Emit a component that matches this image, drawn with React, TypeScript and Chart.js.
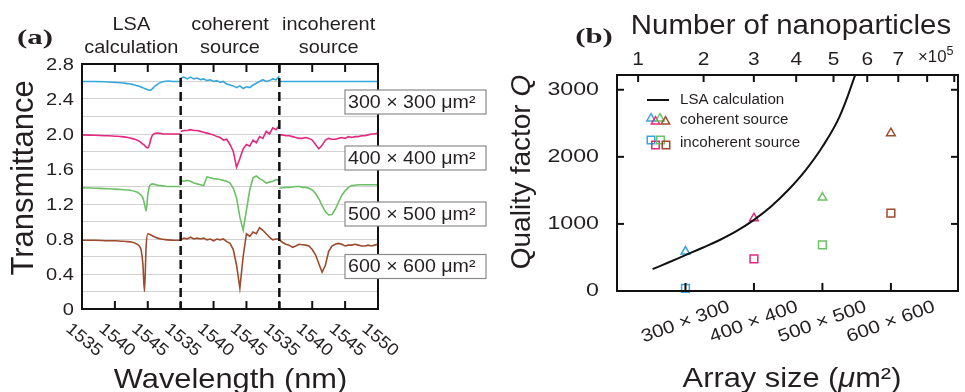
import React, { useEffect, useRef } from 'react';
import { Chart, registerables } from 'chart.js';

Chart.register(...registerables);

// ---------- shared styling ----------
const SIZE_COLORS = ['#35a7dc', '#e2297f', '#6dc066', '#9d4b2c'];
const INK = '#231f20';
const SANS = 'Liberation Sans';

// ---------- panel (a): transmittance spectra ----------
const segmentTitles = [
  ['LSA', 'calculation'],
  ['coherent', 'source'],
  ['incoherent', 'source'],
];
const sizeBoxLabels = ['300 × 300 μm²', '400 × 400 μm²', '500 × 500 μm²', '600 × 600 μm²'];
const wavelengthTickLabels = ['1535', '1540', '1545', '1535', '1540', '1545', '1535', '1540', '1545', '1550'];
const transmittanceTicks = [0, 0.4, 0.8, 1.2, 1.6, 2.0, 2.4, 2.8];

// LSA calculation (nm / offset transmittance)
const lsaWavelength = [1535, 1537, 1539, 1540, 1541, 1542, 1542.5, 1543, 1543.5, 1543.75, 1544, 1544.25, 1544.5, 1544.75, 1545, 1545.25, 1545.5, 1545.75, 1546, 1546.5, 1547, 1547.5, 1548, 1549, 1550];
const lsa300 = [2.6, 2.6, 2.595, 2.59, 2.585, 2.575, 2.57, 2.56, 2.55, 2.545, 2.535, 2.53, 2.52, 2.515, 2.505, 2.5, 2.505, 2.52, 2.54, 2.57, 2.59, 2.6, 2.605, 2.6, 2.6];
const lsa400 = [1.99, 1.985, 1.98, 1.975, 1.97, 1.96, 1.95, 1.94, 1.925, 1.915, 1.9, 1.885, 1.87, 1.85, 1.84, 1.88, 1.95, 1.99, 2.005, 2.01, 2.005, 2.0, 2.0, 2.0, 2.0];
const lsa500 = [1.385, 1.38, 1.375, 1.37, 1.365, 1.36, 1.355, 1.345, 1.33, 1.315, 1.3, 1.27, 1.2, 1.12, 1.3, 1.4, 1.425, 1.43, 1.425, 1.415, 1.41, 1.405, 1.4, 1.4, 1.4];
const lsa600 = [0.785, 0.785, 0.78, 0.78, 0.775, 0.77, 0.765, 0.755, 0.735, 0.715, 0.67, 0.52, 0.2, 0.72, 0.86, 0.855, 0.845, 0.835, 0.825, 0.81, 0.8, 0.795, 0.79, 0.785, 0.785];

// measured spectra, 0.5 nm steps
const measWavelength = [1535, 1535.5, 1536, 1536.5, 1537, 1537.5, 1538, 1538.5, 1539, 1539.5, 1540, 1540.5, 1541, 1541.5, 1542, 1542.5, 1543, 1543.5, 1544, 1544.5, 1545, 1545.5, 1546, 1546.5, 1547, 1547.5, 1548, 1548.5, 1549, 1549.5, 1550];
const coherent300 = [2.64, 2.65, 2.63, 2.65, 2.63, 2.64, 2.62, 2.63, 2.61, 2.62, 2.6, 2.61, 2.59, 2.6, 2.57, 2.56, 2.55, 2.53, 2.55, 2.52, 2.54, 2.53, 2.56, 2.58, 2.6, 2.62, 2.6, 2.61, 2.63, 2.62, 2.66];
const coherent400 = [2.03, 2.04, 2.04, 2.05, 2.04, 2.04, 2.03, 2.02, 2.01, 2.0, 1.99, 1.97, 1.96, 1.93, 1.94, 1.88, 1.8, 1.62, 1.72, 1.83, 1.88, 1.86, 1.93, 1.9, 1.97, 1.95, 2.03, 2.0, 2.07, 2.05, 2.1];
const coherent500 = [1.47, 1.46, 1.47, 1.46, 1.44, 1.43, 1.42, 1.41, 1.51, 1.5, 1.49, 1.485, 1.48, 1.47, 1.46, 1.44, 1.38, 1.27, 1.05, 0.9, 1.13, 1.36, 1.5, 1.52, 1.49, 1.47, 1.44, 1.45, 1.46, 1.48, 1.47];
const coherent600 = [0.79, 0.81, 0.8, 0.82, 0.8, 0.81, 0.8, 0.81, 0.79, 0.8, 0.78, 0.8, 0.79, 0.8, 0.77, 0.75, 0.68, 0.5, 0.24, 0.6, 0.86, 0.83, 0.88, 0.86, 0.93, 0.9, 0.86, 0.82, 0.79, 0.8, 0.8];
const incoherent300 = [2.6, 2.6, 2.6, 2.6, 2.6, 2.6, 2.6, 2.6, 2.6, 2.6, 2.6, 2.6, 2.6, 2.6, 2.6, 2.6, 2.6, 2.6, 2.6, 2.6, 2.6, 2.6, 2.6, 2.6, 2.6, 2.6, 2.6, 2.6, 2.6, 2.6, 2.6];
const incoherent400 = [1.99, 1.99, 1.98, 1.98, 1.97, 1.96, 1.95, 1.95, 1.96, 1.95, 1.93, 1.88, 1.83, 1.87, 1.93, 1.95, 1.94, 1.94, 1.95, 1.96, 1.95, 1.97, 1.96, 1.97, 1.97, 1.98, 1.98, 1.99, 2.0, 2.0, 2.01];
const incoherent500 = [1.38, 1.385, 1.39, 1.39, 1.395, 1.4, 1.4, 1.39, 1.39, 1.38, 1.36, 1.32, 1.26, 1.18, 1.11, 1.075, 1.08, 1.14, 1.22, 1.3, 1.35, 1.39, 1.41, 1.415, 1.42, 1.42, 1.42, 1.42, 1.42, 1.42, 1.42];
const incoherent600 = [0.79, 0.76, 0.74, 0.73, 0.705, 0.72, 0.74, 0.735, 0.73, 0.72, 0.68, 0.62, 0.52, 0.42, 0.5, 0.66, 0.72, 0.74, 0.75, 0.74, 0.72, 0.73, 0.73, 0.74, 0.73, 0.72, 0.72, 0.73, 0.72, 0.73, 0.74];

// ---------- panel (b): quality factor ----------
const arraySides = [300, 400, 500, 600]; // µm
const arraySizeLabels = ['300 × 300', '400 × 400', '500 × 500', '600 × 600'];
const coherentQ = [587, 1085, 1393, 2353];
const incoherentQ = [40, 478, 687, 1160];
const lsaSide = [252, 275, 300, 325, 350, 375, 400, 425, 450, 475, 500, 525, 550];
const lsaQ = [325, 425, 535, 645, 760, 895, 1060, 1260, 1505, 1795, 2150, 2600, 3280];
const qTicks = [0, 1000, 2000, 3000];
const particleTicks = [1, 2, 3, 4, 5, 6, 7, 8, 9]; // ×10^5
const particleLabels = ['1', '2', '3', '4', '5', '6', '7', '', ''];
const latticePeriod = 0.73; // µm, N = (side / period)^2

// ---------- text helpers ----------
type Run = { t: string; italic?: boolean; bold?: boolean; size?: number; dy?: number };

function drawRuns(
  ctx: CanvasRenderingContext2D,
  runs: Run[],
  x: number,
  y: number,
  o: { size: number; sx?: number; rot?: number; align?: 'left' | 'center' | 'right'; family?: string; color?: string; bold?: boolean }
) {
  const family = o.family || SANS;
  const fontOf = (r: Run) =>
    `${r.italic ? 'italic ' : ''}${r.bold || o.bold ? 'bold ' : ''}${r.size || o.size}px "${family}"`;
  ctx.save();
  ctx.translate(x, y);
  if (o.rot) ctx.rotate(o.rot);
  ctx.scale(o.sx || 1, 1);
  ctx.fillStyle = o.color || INK;
  ctx.textBaseline = 'middle';
  ctx.textAlign = 'left';
  const widths = runs.map((r) => {
    ctx.font = fontOf(r);
    return ctx.measureText(r.t).width;
  });
  const total = widths.reduce((s, w) => s + w, 0);
  let cx = o.align === 'left' ? 0 : o.align === 'right' ? -total : -total / 2;
  runs.forEach((r, i) => {
    ctx.font = fontOf(r);
    ctx.fillText(r.t, cx, r.dy || 0);
    cx += widths[i];
  });
  ctx.restore();
}

function txt(ctx: CanvasRenderingContext2D, s: string, x: number, y: number, o: any) {
  drawRuns(ctx, [{ t: s }], x, y, o);
}

function seg(ctx: CanvasRenderingContext2D, x1: number, y1: number, x2: number, y2: number) {
  ctx.beginPath();
  ctx.moveTo(x1, y1);
  ctx.lineTo(x2, y2);
  ctx.stroke();
}

function triangle(ctx: CanvasRenderingContext2D, cx: number, cy: number, r: number) {
  ctx.beginPath();
  for (let k = 0; k < 3; k++) {
    const ang = -Math.PI / 2 + (k * 2 * Math.PI) / 3;
    const px = cx + Math.cos(ang) * r;
    const py = cy + Math.sin(ang) * r;
    if (k === 0) ctx.moveTo(px, py);
    else ctx.lineTo(px, py);
  }
  ctx.closePath();
  ctx.stroke();
}

function square(ctx: CanvasRenderingContext2D, cx: number, cy: number, s: number) {
  ctx.strokeRect(cx - s / 2, cy - s / 2, s, s);
}

// ---------- panel (a) chart ----------
function spectrumSets() {
  const curves = [
    { wl: lsaWavelength, vals: [lsa300, lsa400, lsa500, lsa600], offset: 0, smooth: true },
    { wl: measWavelength, vals: [coherent300, coherent400, coherent500, coherent600], offset: 15, smooth: false },
    { wl: measWavelength, vals: [incoherent300, incoherent400, incoherent500, incoherent600], offset: 30, smooth: false },
  ];
  const sets: any[] = [];
  curves.forEach((c) => {
    c.vals.forEach((series, i) => {
      sets.push({
        data: series.map((v, k) => ({ x: c.offset + (c.wl[k] - 1535), y: v })),
        borderColor: SIZE_COLORS[i],
        borderWidth: 1.6,
        pointRadius: 0,
        tension: c.smooth ? 0.4 : 0,
        cubicInterpolationMode: c.smooth ? 'monotone' : 'default',
        fill: false,
      });
    });
  });
  return sets;
}

const panelAPlugin = {
  id: 'panelADecor',
  afterDraw(chart: any) {
    const { ctx, chartArea: ca, scales } = chart;
    const xs = scales.x;
    const ys = scales.y;
    ctx.save();

    // segment separators
    ctx.strokeStyle = '#111';
    ctx.lineWidth = 2.5;
    ctx.setLineDash([9, 5]);
    [15, 30].forEach((b) => {
      const px = xs.getPixelForValue(b);
      seg(ctx, px, ca.top, px, ca.bottom);
    });
    ctx.setLineDash([]);

    // frame and ticks
    ctx.lineWidth = 2;
    ctx.strokeRect(ca.left, ca.top, ca.right - ca.left, ca.bottom - ca.top);
    for (let v = 5; v < 45; v += 5) {
      const px = xs.getPixelForValue(v);
      seg(ctx, px, ca.top, px, ca.top + 8);
      seg(ctx, px, ca.bottom, px, ca.bottom - 8);
    }

    // y tick labels
    transmittanceTicks.forEach((v) => {
      const py = ys.getPixelForValue(v);
      txt(ctx, v === 0 ? '0' : v.toFixed(1), ca.left - 8, py + 1, { size: 17, sx: 1.18, align: 'right' });
    });

    // rotated wavelength labels
    wavelengthTickLabels.forEach((s, i) => {
      const px = xs.getPixelForValue(i * 5);
      txt(ctx, s, px + 2, ca.bottom + 31, { size: 17, sx: 1.1, rot: (40 * Math.PI) / 180 });
    });

    // axis titles
    txt(ctx, 'Wavelength (nm)', (ca.left + ca.right) / 2 + 0.5, ca.bottom + 71, { size: 28, sx: 1.1 });
    txt(ctx, 'Transmittance', 24, 178, { size: 31, rot: -Math.PI / 2 });

    // segment headers
    segmentTitles.forEach((lines, i) => {
      const cx = (xs.getPixelForValue(i * 15) + xs.getPixelForValue(i * 15 + 15)) / 2;
      txt(ctx, lines[0], cx, 25, { size: 19, sx: 1.05 });
      txt(ctx, lines[1], cx, 48, { size: 19, sx: 1.05 });
    });

    // panel tag
    txt(ctx, '(a)', 35, 38, { size: 22, sx: 1.4, bold: true, family: 'Liberation Serif' });

    // size boxes
    const boxCenters = [102, 158, 214, 266.5];
    boxCenters.forEach((cy, i) => {
      const bx = ca.right - 33;
      const bw = 141;
      const bh = 24;
      ctx.fillStyle = '#ffffff';
      ctx.fillRect(bx, cy - bh / 2, bw, bh);
      ctx.strokeStyle = '#8a8a8a';
      ctx.lineWidth = 1.2;
      ctx.strokeRect(bx, cy - bh / 2, bw, bh);
      txt(ctx, sizeBoxLabels[i], bx + 3, cy + 1, { size: 18, sx: 1.09, align: 'left' });
    });
    ctx.restore();
  },
};

// ---------- panel (b) chart ----------
const panelBPlugin = {
  id: 'panelBDecor',
  afterDraw(chart: any) {
    const { ctx, chartArea: ca, scales } = chart;
    const xs = scales.x;
    const ys = scales.y;
    ctx.save();
    ctx.strokeStyle = '#111';
    ctx.lineWidth = 2;
    ctx.strokeRect(ca.left, ca.top, ca.right - ca.left, ca.bottom - ca.top);

    // bottom ticks (array side)
    arraySides.forEach((a) => {
      const px = xs.getPixelForValue(a);
      seg(ctx, px, ca.bottom, px, ca.bottom - 8);
    });
    // top ticks (number of nanoparticles)
    particleTicks.forEach((n, i) => {
      const px = xs.getPixelForValue(latticePeriod * Math.sqrt(n * 1e5));
      seg(ctx, px, ca.top, px, ca.top + 7);
      if (particleLabels[i]) txt(ctx, particleLabels[i], px, 60, { size: 19, sx: 1.1 });
    });
    // y ticks on both sides
    qTicks.forEach((q) => {
      const py = ys.getPixelForValue(q);
      if (q > 0) {
        seg(ctx, ca.left, py, ca.left + 7, py);
        seg(ctx, ca.right, py, ca.right - 7, py);
      }
      txt(ctx, String(q), ca.left - 18, py, { size: 19, sx: 1.22, align: 'right' });
    });

    // exponent of top axis
    drawRuns(ctx, [{ t: '×10' }, { t: '5', size: 12, dy: -6 }], ca.right - 40, 58, { size: 16, sx: 1.05, align: 'left' });

    // rotated array size labels
    arraySizeLabels.forEach((s, i) => {
      const px = xs.getPixelForValue(arraySides[i]);
      txt(ctx, s, px, 322, { size: 18, sx: 1.15, rot: (-20 * Math.PI) / 180 });
    });

    // titles
    txt(ctx, 'Number of nanoparticles', 301, 26, { size: 28, sx: 1.05 });
    drawRuns(ctx, [{ t: 'Array size (' }, { t: 'μ', italic: true }, { t: 'm²)' }], 302, 379, { size: 28, sx: 1.1 });
    drawRuns(ctx, [{ t: 'Quality factor ' }, { t: 'Q', italic: true }], 32, 172, { size: 28, rot: -Math.PI / 2 });
    txt(ctx, '(b)', 104, 37, { size: 22, sx: 1.4, bold: true, family: 'Liberation Serif' });

    // legend
    ctx.strokeStyle = '#111';
    ctx.lineWidth = 2;
    seg(ctx, 157, 100, 179, 100);
    txt(ctx, 'LSA calculation', 190, 100, { size: 14, sx: 1.08, align: 'left' });
    ctx.lineWidth = 1.5;
    const triPos = [[161, 118.5], [165.5, 121.5], [170, 118.5], [175.5, 121.5]];
    triPos.forEach((p, i) => {
      ctx.strokeStyle = SIZE_COLORS[i];
      triangle(ctx, p[0], p[1], 4.8);
    });
    txt(ctx, 'coherent source', 190, 120, { size: 14, sx: 1.08, align: 'left' });
    const sqPos = [[161, 140], [165.5, 145], [170.5, 140], [176, 145]];
    sqPos.forEach((p, i) => {
      ctx.strokeStyle = SIZE_COLORS[i];
      square(ctx, p[0], p[1], 7.5);
    });
    txt(ctx, 'incoherent source', 190, 143, { size: 14, sx: 1.08, align: 'left' });
    ctx.restore();
  },
};

export default function App() {
  const refA = useRef<HTMLCanvasElement>(null);
  const refB = useRef<HTMLCanvasElement>(null);

  useEffect(() => {
    const chartA = new Chart(refA.current as HTMLCanvasElement, {
      type: 'line',
      data: { datasets: spectrumSets() },
      options: {
        animation: false,
        responsive: false,
        devicePixelRatio: 1,
        events: [],
        layout: { padding: { left: 82, top: 64, right: 112, bottom: 83 } },
        plugins: { legend: { display: false }, tooltip: { enabled: false } },
        scales: {
          x: { type: 'linear', min: 0, max: 45, display: false },
          y: {
            type: 'linear',
            min: 0,
            max: 2.8,
            ticks: { display: false, stepSize: 0.2 },
            grid: { color: '#d2d2d2', lineWidth: 1, drawTicks: false },
            border: { display: false },
          },
        },
      } as any,
      plugins: [panelAPlugin],
    });

    const chartB = new Chart(refB.current as HTMLCanvasElement, {
      type: 'line',
      data: {
        datasets: [
          {
            data: lsaSide.map((a, i) => ({ x: a, y: lsaQ[i] })),
            borderColor: '#111',
            borderWidth: 2,
            pointRadius: 0,
            tension: 0.4,
            fill: false,
          },
          {
            data: arraySides.map((a, i) => ({ x: a, y: coherentQ[i] })),
            showLine: false,
            pointStyle: 'triangle',
            pointRadius: 5,
            pointBorderWidth: 1.5,
            pointBorderColor: SIZE_COLORS,
            pointBackgroundColor: 'rgba(0,0,0,0)',
            clip: false,
          },
          {
            data: arraySides.map((a, i) => ({ x: a, y: incoherentQ[i] })),
            showLine: false,
            pointStyle: 'rect',
            pointRadius: 5.5,
            pointBorderWidth: 1.5,
            pointBorderColor: SIZE_COLORS,
            pointBackgroundColor: 'rgba(0,0,0,0)',
            clip: false,
          },
        ],
      },
      options: {
        animation: false,
        responsive: false,
        devicePixelRatio: 1,
        events: [],
        layout: { padding: { left: 127, top: 75, right: 2, bottom: 101 } },
        plugins: { legend: { display: false }, tooltip: { enabled: false } },
        scales: {
          x: { type: 'linear', min: 200, max: 698, display: false },
          y: { type: 'linear', min: 0, max: 3220, display: false },
        },
      } as any,
      plugins: [panelBPlugin],
    });

    return () => {
      chartA.destroy();
      chartB.destroy();
    };
  }, []);

  return (
    <div style={{ position: 'absolute', left: 0, top: 0, width: 965, height: 392, background: '#ffffff' }}>
      <canvas ref={refA} width={490} height={392} style={{ position: 'absolute', left: 0, top: 0, width: 490, height: 392 }} />
      <canvas ref={refB} width={475} height={392} style={{ position: 'absolute', left: 490, top: 0, width: 475, height: 392 }} />
    </div>
  );
}
